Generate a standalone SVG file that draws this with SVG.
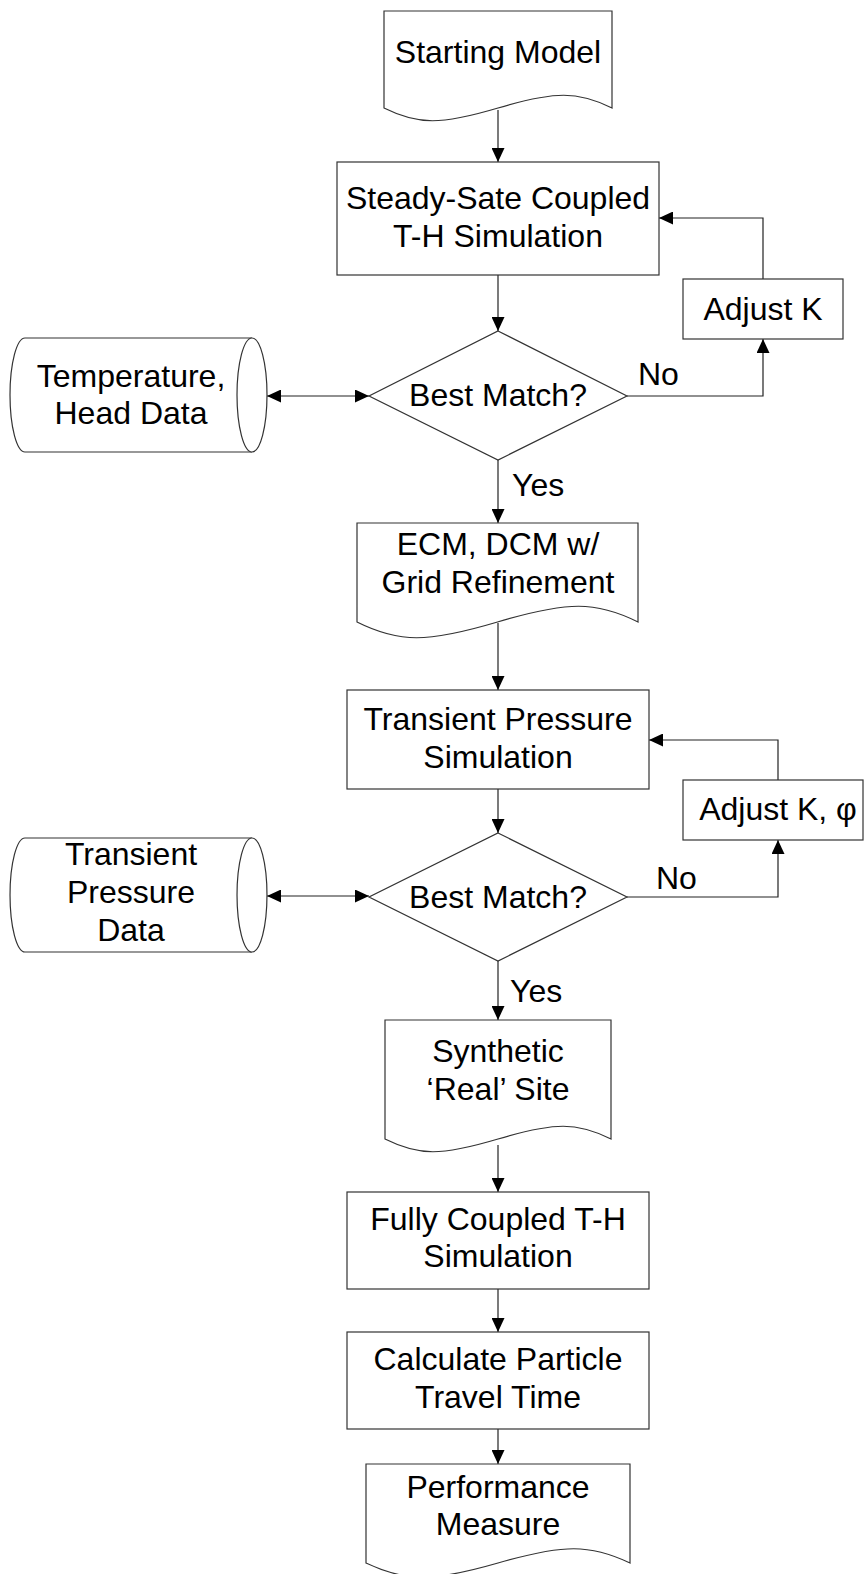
<svg xmlns="http://www.w3.org/2000/svg" width="864" height="1574" viewBox="0 0 864 1574">
<defs>
<marker id="ah" markerUnits="userSpaceOnUse" markerWidth="14" markerHeight="13" refX="14" refY="6.5" orient="auto-start-reverse">
<path d="M0,0 L14,6.5 L0,13 Z" fill="#000"/>
</marker>
</defs>
<style>
.s{fill:#fff;stroke:#333;stroke-width:1.2}
.c{fill:none;stroke:#222;stroke-width:1.2;marker-end:url(#ah)}
.d{fill:none;stroke:#222;stroke-width:1.2;marker-end:url(#ah);marker-start:url(#ah)}
text{font-family:"Liberation Sans",Arial,sans-serif;font-size:32px;fill:#000;text-anchor:middle}
.l{text-anchor:start}
</style>
<rect width="864" height="1574" fill="#fff"/>

<g id="connectors">
<path class="c" d="M498,110 V162"/>
<path class="c" d="M498,275 V331"/>
<path class="c" d="M627,396 H763 V339"/>
<path class="c" d="M763,279 V218 H659"/>
<path class="d" d="M267,396 H369"/>
<path class="c" d="M498,460 V523"/>
<path class="c" d="M498,623 V690"/>
<path class="c" d="M498,789 V833"/>
<path class="c" d="M627,897 H778 V840"/>
<path class="c" d="M778,780 V740 H649"/>
<path class="d" d="M267,896 H369"/>
<path class="c" d="M498,961 V1020"/>
<path class="c" d="M498,1145 V1192"/>
<path class="c" d="M498,1289 V1332"/>
<path class="c" d="M498,1429 V1464"/>
</g>

<g id="starting-model">
<path class="s" d="M384,11 H612 V108 C578,91 555,91 498,108 C441,125 418,125 384,108 Z"/>
<text x="498" y="63">Starting Model</text>
</g>

<g id="steady-state">
<rect class="s" x="337" y="162" width="322" height="113"/>
<text x="498" y="209">Steady-Sate Coupled</text>
<text x="498" y="247">T-H Simulation</text>
</g>

<g id="adjust-k">
<rect class="s" x="683" y="279" width="160" height="60"/>
<text x="763" y="320">Adjust K</text>
</g>

<g id="decision-1">
<path class="s" d="M498,331 L627,396 L498,460 L369,396 Z"/>
<text x="498" y="406">Best Match?</text>
</g>

<g id="temp-head-data">
<path class="s" d="M25,338 H252 A15,57 0 0 1 252,452 H25 A15,57 0 0 1 25,338 Z"/>
<path class="s" d="M252,338 A15,57 0 0 0 252,452" fill="none"/>
<text x="131" y="387">Temperature,</text>
<text x="131" y="424">Head Data</text>
</g>

<g id="ecm-dcm">
<path class="s" d="M357,523 H638 V622 C596,601 568,601 497.5,622 C427,643 399,643 357,622 Z"/>
<text x="498" y="555">ECM, DCM w/</text>
<text x="498" y="593">Grid Refinement</text>
</g>

<g id="transient-sim">
<rect class="s" x="347" y="690" width="302" height="99"/>
<text x="498" y="730">Transient Pressure</text>
<text x="498" y="768">Simulation</text>
</g>

<g id="adjust-k-phi">
<rect class="s" x="683" y="780" width="180" height="60"/>
<text x="778" y="820">Adjust K, φ</text>
</g>

<g id="decision-2">
<path class="s" d="M498,833 L627,897 L498,961 L369,897 Z"/>
<text x="498" y="908">Best Match?</text>
</g>

<g id="transient-data">
<path class="s" d="M25,838 H252 A15,57 0 0 1 252,952 H25 A15,57 0 0 1 25,838 Z"/>
<path class="s" d="M252,838 A15,57 0 0 0 252,952" fill="none"/>
<text x="131" y="865">Transient</text>
<text x="131" y="903">Pressure</text>
<text x="131" y="941">Data</text>
</g>

<g id="labels">
<text class="l" x="638" y="385">No</text>
<text class="l" x="512" y="496">Yes</text>
<text class="l" x="656" y="889">No</text>
<text class="l" x="510" y="1002">Yes</text>
</g>

<g id="synthetic-site">
<path class="s" d="M385,1020 H611 V1139 C577,1122 555,1122 498,1139 C441,1156 419,1156 385,1139 Z"/>
<text x="498" y="1062">Synthetic</text>
<text x="498" y="1100">‘Real’ Site</text>
</g>

<g id="fully-coupled">
<rect class="s" x="347" y="1192" width="302" height="97"/>
<text x="498" y="1230">Fully Coupled T-H</text>
<text x="498" y="1267">Simulation</text>
</g>

<g id="particle-time">
<rect class="s" x="347" y="1332" width="302" height="97"/>
<text x="498" y="1370">Calculate Particle</text>
<text x="498" y="1408">Travel Time</text>
</g>

<g id="performance">
<path class="s" d="M366,1464 H630 V1563 C590,1544 564,1544 498,1563 C432,1582 406,1582 366,1563 Z"/>
<text x="498" y="1498">Performance</text>
<text x="498" y="1535">Measure</text>
</g>
</svg>
